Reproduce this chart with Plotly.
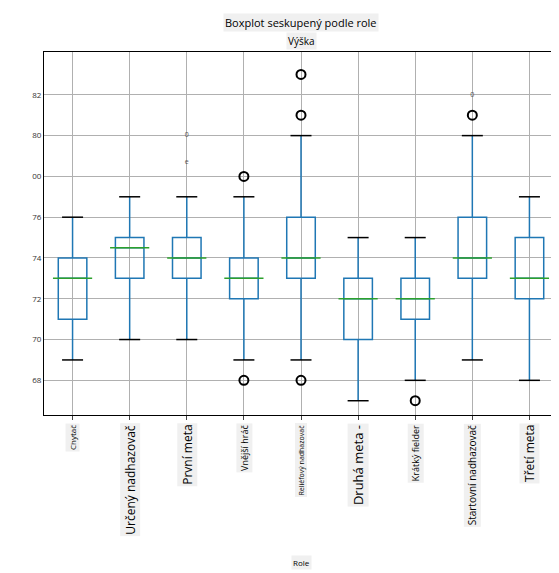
import plotly.graph_objects as go

roles = ["Chytač", "Určený nadhazovač", "První meta", "Vnější hráč", "Reliéfový nadhazovač",
         "Druhá meta -", "Krátký fielder", "Startovní nadhazovač", "Třetí meta"]
lower = [69, 70, 70, 69, 69, 67, 68, 69, 68]
q1 = [71, 73, 73, 72, 73, 70, 71, 73, 72]
median = [73, 74.5, 74, 73, 74, 72, 72, 74, 73]
q3 = [74, 75, 75, 74, 76, 73, 73, 76, 75]
upper = [76, 77, 77, 77, 80, 75, 75, 80, 77]
flier_x = [4, 4, 5, 5, 5, 7, 8]
flier_y = [78, 68, 83, 81, 68, 67, 81]
odd_x = [3, 3, 8]
odd_y = [80, 78.7, 82]
odd_text = ["0", "e", "0"]
tick_vals = [68, 70, 72, 74, 76, 78, 80, 82]
tick_text = ["68", "70", "72", "74", "76", "00", "80", "82"]
label_sizes = [8, 12, 12, 9, 7, 13, 9, 10, 12]

pos = list(range(1, len(roles) + 1))
fig = go.Figure()
for i, p in enumerate(pos):
    fig.add_trace(go.Box(x=[p], q1=[q1[i]], median=[median[i]], q3=[q3[i]],
                         lowerfence=[lower[i]], upperfence=[upper[i]],
                         boxpoints=False, width=0.5, whiskerwidth=0,
                         fillcolor="rgba(0,0,0,0)", line=dict(color="#1f77b4", width=1.5)))
fig.add_trace(go.Scatter(x=pos, y=median, mode="markers",
                         marker=dict(symbol="line-ew", size=28, line=dict(color="#2ca02c", width=1.5))))
fig.add_trace(go.Scatter(x=pos + pos, y=lower + upper, mode="markers",
                         marker=dict(symbol="line-ew", size=15, line=dict(color="black", width=1.5))))
fig.add_trace(go.Scatter(x=flier_x, y=flier_y, mode="markers",
                         marker=dict(symbol="circle-open", size=9, color="black", line=dict(width=2))))
fig.add_trace(go.Scatter(x=odd_x, y=odd_y, mode="text", text=odd_text,
                         textfont=dict(size=7, color="#555")))

for i, p in enumerate(pos):
    fig.add_annotation(x=p, xref="x", y=0, yref="paper", yanchor="top", yshift=-8,
                       text=roles[i], textangle=-90, showarrow=False,
                       bgcolor="#f0f0f0", font=dict(size=label_sizes[i], color="black"))
fig.add_annotation(x=0.5, xref="paper", y=1.0, yref="paper", yanchor="bottom", yshift=20,
                   text="Boxplot seskupený podle role", showarrow=False, bgcolor="#f0f0f0",
                   font=dict(size=11, color="black"))
fig.add_annotation(x=0.5, xref="paper", y=1.0, yref="paper", yanchor="bottom", yshift=2,
                   text="Výška", showarrow=False, bgcolor="#f0f0f0", font=dict(size=10, color="black"))
fig.add_annotation(x=0.5, xref="paper", y=0, yref="paper", yanchor="top", yshift=-140,
                   text="Role", showarrow=False, bgcolor="#f0f0f0", font=dict(size=8, color="black"))

fig.update_layout(
    width=559, height=573, showlegend=False, plot_bgcolor="white", paper_bgcolor="white",
    font=dict(family="Open Sans"),
    margin=dict(l=36, r=9, t=44, b=166),
)
fig.update_xaxes(range=[0.5, 9.5], tickvals=pos, ticktext=[""] * 9, ticks="outside", ticklen=4,
                 showgrid=True, gridcolor="#b0b0b0", showline=True, linecolor="black", mirror=True,
                 zeroline=False)
fig.update_yaxes(range=[66.3, 84.1], tickvals=tick_vals, ticktext=tick_text, ticks="",
                 tickfont=dict(size=8, color="#333"), showgrid=True, gridcolor="#b0b0b0",
                 showline=True, linecolor="black", mirror=True, zeroline=False)
fig.write_html("out.html")
